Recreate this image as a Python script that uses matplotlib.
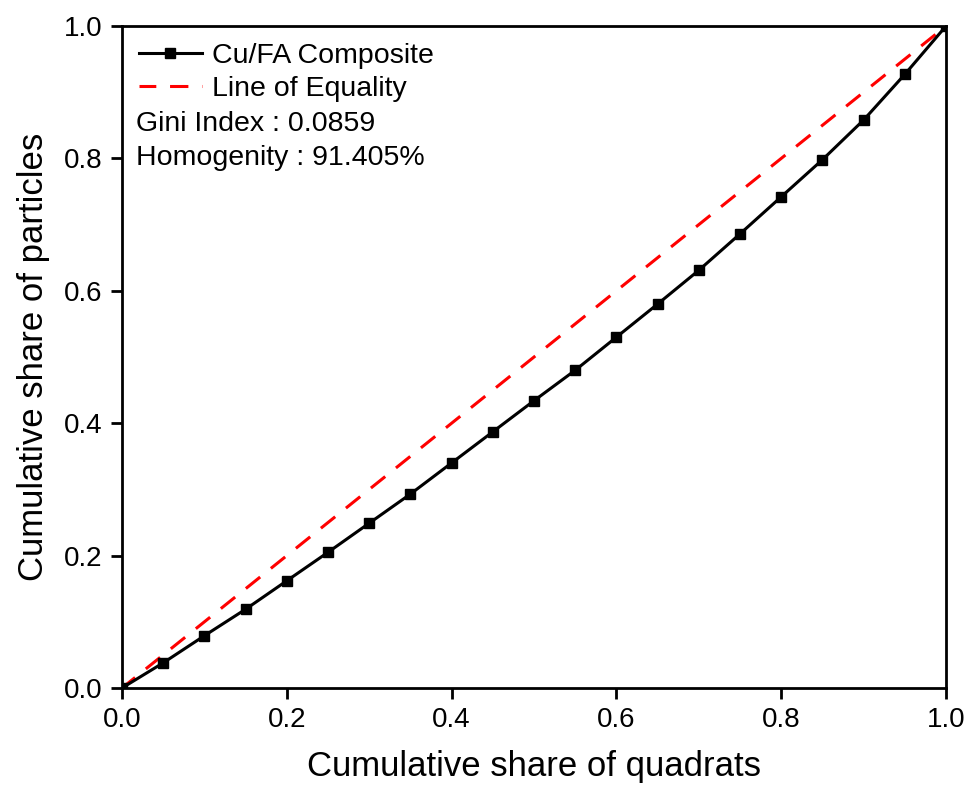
import matplotlib
matplotlib.use('Agg')
import matplotlib.pyplot as plt
import numpy as np

plt.rcParams['font.family'] = ['Liberation Sans', 'DejaVu Sans']

# cumulative share of quadrats / particles (Lorenz curve)
quadrats = [0.0, 0.05, 0.10, 0.15, 0.20, 0.25, 0.30, 0.35, 0.40, 0.45, 0.50,
            0.55, 0.60, 0.65, 0.70, 0.75, 0.80, 0.85, 0.90, 0.95, 1.0]
particles = [0.0, 0.038, 0.079, 0.119, 0.162, 0.205, 0.249, 0.293, 0.340, 0.387, 0.434,
             0.480, 0.530, 0.580, 0.631, 0.686, 0.742, 0.798, 0.858, 0.927, 1.0]
equality = [0.0, 1.0]
gini_text = "Gini Index : 0.0859"
homog_text = "Homogenity : 91.405%"

fig = plt.figure(figsize=(9.66, 7.91), dpi=100)
ax = fig.add_axes([0.1263, 0.1302, 0.8530, 0.8369])

ax.plot(quadrats, particles, color='black', lw=2.2, marker='s', ms=7.5,
        label='Cu/FA Composite', zorder=3)
ax.plot(equality, equality, color='red', lw=2.2, ls=(0.5, (6, 4.5)),
        label='Line of Equality', zorder=2)

ax.set_xlim(0, 1)
ax.set_ylim(0, 1)
ax.set_xticks(np.arange(0, 1.01, 0.2))
ax.set_yticks(np.arange(0, 1.01, 0.2))
ax.xaxis.set_major_formatter(matplotlib.ticker.FormatStrFormatter('%.1f'))
ax.yaxis.set_major_formatter(matplotlib.ticker.FormatStrFormatter('%.1f'))
ax.tick_params(direction='out', length=8, width=2.0, labelsize=20, pad=6)
for s in ax.spines.values():
    s.set_linewidth(2.0)

ax.set_xlabel('Cumulative share of quadrats', fontsize=25, labelpad=12)
ax.set_ylabel('Cumulative share of particles', fontsize=25, labelpad=10)

leg = ax.legend(loc='upper left', frameon=False, fontsize=20.5, handlelength=2.2,
                handletextpad=0.35, borderaxespad=0.2, labelspacing=0.25,
                bbox_to_anchor=(0.0, 1.0))

ax.text(0.017, 0.852, gini_text, transform=ax.transAxes, fontsize=20.5, va='center')
ax.text(0.017, 0.800, homog_text, transform=ax.transAxes, fontsize=20.5, va='center')

fig.savefig('out.png', dpi=100)
